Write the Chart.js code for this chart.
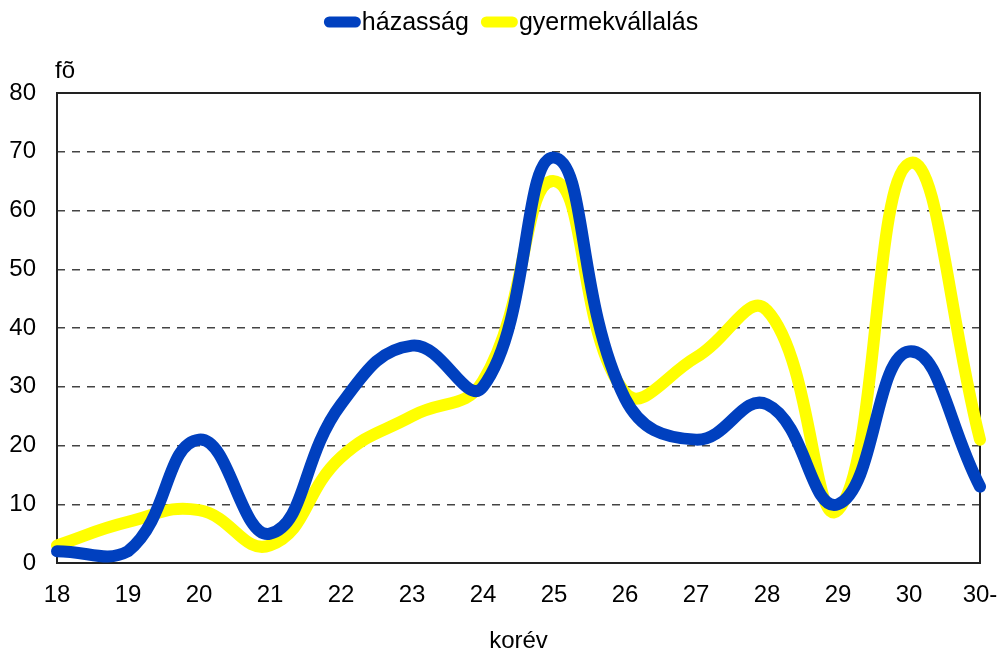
<!DOCTYPE html>
<html>
<head>
<meta charset="utf-8">
<script src="https://cdn.jsdelivr.net/npm/chart.js@4.4.1/dist/chart.umd.min.js"></script>
<style>
  html, body { margin: 0; padding: 0; background: #fff; }
  #wrap { width: 1000px; height: 655px; }
</style>
</head>
<body>
<div id="wrap"><canvas id="c" width="1000" height="655"></canvas></div>
<script>
// Age groups (korév) and number of people (fõ) per group
const ages = ['18', '19', '20', '21', '22', '23', '24', '25', '26', '27', '28', '29', '30', '30-'];
const marriage = [2, 2, 21, 5, 27, 37, 30, 69, 28, 21, 27, 10, 36, 13];      // házasság
const childbearing = [3, 7, 9, 3, 18, 25, 31, 65, 29, 35, 43, 9, 68, 21];     // gyermekvállalás
const seriesNames = ['házasság', 'gyermekvállalás'];
const seriesColors = ['#0040BF', '#FFFF00'];
const yMin = 0, yMax = 80, yStep = 10;
const yUnit = 'fõ';
const xTitle = 'korév';

const FONT = "'Liberation Sans', Arial, sans-serif";

// Solid frame around the plotting area
const frame = {
  id: 'frame',
  beforeDatasetsDraw(chart) {
    const { ctx, chartArea: a } = chart;
    ctx.save();
    ctx.strokeStyle = '#222';
    ctx.lineWidth = 2;
    ctx.setLineDash([]);
    ctx.strokeRect(a.left, a.top, a.right - a.left, a.bottom - a.top);
    ctx.restore();
  }
};

// Unit label above the value axis and the legend row at the top
const extras = {
  id: 'extras',
  afterDraw(chart) {
    const { ctx, chartArea: a } = chart;
    ctx.save();
    ctx.fillStyle = '#000';
    ctx.font = '24px ' + FONT;
    ctx.textAlign = 'left';
    ctx.textBaseline = 'middle';
    ctx.fillText(yUnit, a.left - 2, 71);

    // legend
    ctx.font = '25px ' + FONT;
    const sw = 37, sh = 11, gapText = 1, gapItem = 12;
    const widths = seriesNames.map(n => ctx.measureText(n).width);
    const total = widths.reduce((s, w) => s + sw + gapText + w, 0) + gapItem * (seriesNames.length - 1);
    let x = 511 - total / 2;
    const cy = 22;
    chart.data.datasets.forEach((ds, i) => {
      ctx.fillStyle = ds.borderColor;
      ctx.beginPath();
      ctx.roundRect(x, cy - sh / 2, sw, sh, sh / 2);
      ctx.fill();
      x += sw + gapText;
      ctx.fillStyle = '#000';
      ctx.fillText(ds.label, x, cy + 1);
      x += widths[i] + gapItem;
    });
    ctx.restore();
  }
};

new Chart(document.getElementById('c'), {
  type: 'line',
  data: {
    labels: ages,
    datasets: [
      { label: seriesNames[0], data: marriage, borderColor: seriesColors[0], backgroundColor: seriesColors[0] },
      { label: seriesNames[1], data: childbearing, borderColor: seriesColors[1], backgroundColor: seriesColors[1] }
    ]
  },
  options: {
    responsive: false,
    animation: false,
    devicePixelRatio: 1,
    layout: { padding: { top: 93, right: 20, left: 0, bottom: 0 } },
    elements: {
      line: { borderWidth: 12, tension: 0.45, borderCapStyle: 'round', borderJoinStyle: 'round', fill: false },
      point: { radius: 0, hoverRadius: 0 }
    },
    plugins: {
      legend: { display: false },
      tooltip: { enabled: false }
    },
    scales: {
      x: {
        type: 'category',
        offset: false,
        grid: { display: false, drawTicks: false },
        border: { display: false },
        ticks: {
          color: '#000', font: { family: FONT, size: 24 },
          padding: 18, maxRotation: 0, autoSkip: false
        },
        title: {
          display: true, text: xTitle, color: '#000',
          font: { family: FONT, size: 24, lineHeight: 1.0 },
          padding: { top: 0, bottom: 2 }
        },
        afterFit(scale) {
          scale.height = 92;
          scale.paddingLeft = 0;
          scale.paddingRight = 0;
        }
      },
      y: {
        min: yMin, max: yMax,
        grid: { color: '#444', lineWidth: 1.5, drawTicks: false },
        border: { display: false, dash: [8, 7] },
        ticks: {
          stepSize: yStep, color: '#000', font: { family: FONT, size: 24 }, padding: 21
        },
        afterFit(scale) {
          scale.width = 57;
          scale.paddingTop = 0;
          scale.paddingBottom = 0;
        }
      }
    }
  },
  plugins: [frame, extras]
});
</script>
</body>
</html>
